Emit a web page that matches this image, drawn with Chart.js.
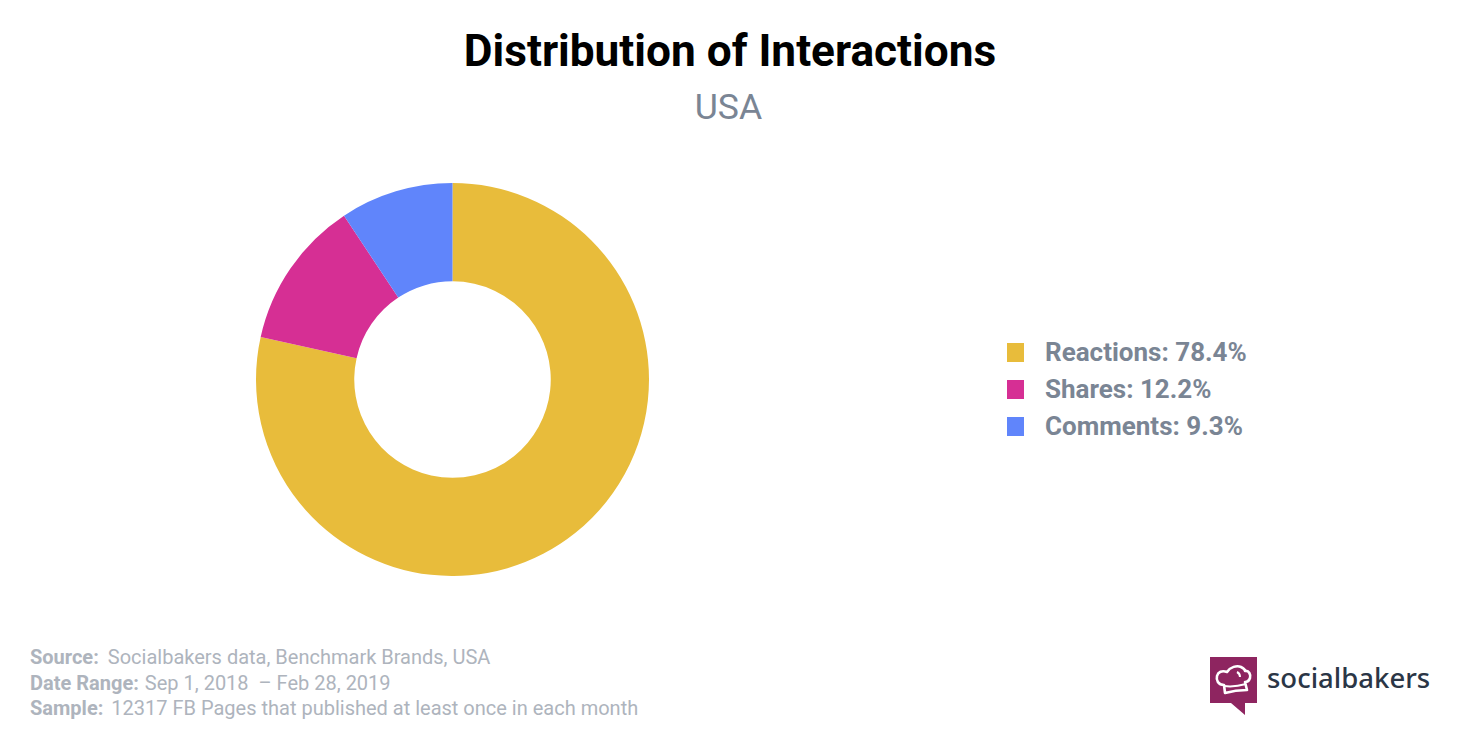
<!DOCTYPE html>
<html>
<head>
<meta charset="utf-8">
<title>Distribution of Interactions</title>
<script src="https://cdn.jsdelivr.net/npm/chart.js@4"></script>
<style>
    html, body { margin: 0; padding: 0; background: #fff; }
    body { position: relative; width: 1460px; height: 730px; overflow: hidden; font-family: Roboto, sans-serif; }
    #title { position: absolute; left: 0; width: 1460px; top: 27px; line-height: 48px; text-align: center; font-size: 44.2px; font-weight: 700; color: #000; }
    #subtitle { position: absolute; left: 0; width: 1457px; top: 87px; line-height: 40px; text-align: center; font-size: 35.6px; color: #7a8594; }
    #chartBox { position: absolute; left: 256px; top: 183px; width: 393px; height: 393px; }
    #legend { position: absolute; left: 1007px; top: 334px; }
    .row { position: relative; height: 37px; line-height: 37px; padding-left: 38px; font-size: 26px; font-weight: 700; color: #7a8594; white-space: nowrap; }
    .swatch { position: absolute; left: 0; top: 9px; width: 17px; height: 19px; }
    #notes { position: absolute; left: 30px; top: 645px; font-size: 20px; line-height: 25.5px; color: #aeb4bd; white-space: pre; }
    #notes b { font-weight: 700; }
    #logo { position: absolute; left: 1210px; top: 657px; }
    #brand { position: absolute; left: 1267px; top: 658px; font-family: "Noto Sans", sans-serif; font-size: 27.5px; line-height: 40px; font-weight: 500; color: #2b3646; }
</style>
</head>
<body>
<div id="title">Distribution of Interactions</div>
<div id="subtitle">USA</div>
<div id="chartBox"><canvas id="chart"></canvas></div>
<div id="legend"></div>
<div id="notes"></div>
<svg id="logo" width="48" height="60" viewBox="0 0 48 60">
    <path d="M0 0H47V46H35V58L21 46H0Z" fill="#8e2560"/>
    <path d="M15 36L14 28C8 28 6 23 7 19C8 15 12 13 17 15C20 10 27 8 31 10C33 11 35 12 35 14C39 13 41 18 40 21C39 24 37 25 35 25L37 33C29 33 22 34 15 36Z" fill="none" stroke="#fff" stroke-width="2.6" stroke-linejoin="round"/>
    <path d="M14 29C21 30 29 29 36 27M27 15C29 16 30 18 30 20" fill="none" stroke="#fff" stroke-width="2"/>
</svg>
<div id="brand">socialbakers</div>

<script>
// Chart data
const categories = ['Reactions', 'Shares', 'Comments'];
const shares = [78.4, 12.2, 9.3];
const sliceColors = ['#e8bc3b', '#d62f94', '#6085fb'];
const noteLabels = ['Source:', 'Date Range:', 'Sample:'];
const noteTexts = ['Socialbakers data, Benchmark Brands, USA', 'Sep 1, 2018  \u2013 Feb 28, 2019', '12317 FB Pages that published at least once in each month'];

new Chart(document.getElementById('chart'), {
    type: 'doughnut',
    data: {
        labels: categories,
        datasets: [{
            data: shares,
            backgroundColor: sliceColors,
            borderWidth: 0
        }]
    },
    options: {
        responsive: true,
        maintainAspectRatio: false,
        animation: false,
        cutout: '50%',
        layout: { padding: 0 },
        plugins: {
            legend: { display: false },
            tooltip: { enabled: false }
        }
    }
});

// Legend on the right
const legend = document.getElementById('legend');
categories.forEach((name, i) => {
    const row = document.createElement('div');
    row.className = 'row';
    const swatch = document.createElement('span');
    swatch.className = 'swatch';
    swatch.style.background = sliceColors[i];
    row.appendChild(swatch);
    row.appendChild(document.createTextNode(`${name}: ${shares[i]}%`));
    legend.appendChild(row);
});

// Footer notes
const notes = document.getElementById('notes');
noteLabels.forEach((label, i) => {
    const line = document.createElement('div');
    const bold = document.createElement('b');
    bold.textContent = label;
    line.appendChild(bold);
    const text = document.createElement('span');
    text.textContent = noteTexts[i];
    text.style.marginLeft = ['9px', '6px', '8px'][i];
    line.appendChild(text);
    notes.appendChild(line);
});
</script>
</body>
</html>
